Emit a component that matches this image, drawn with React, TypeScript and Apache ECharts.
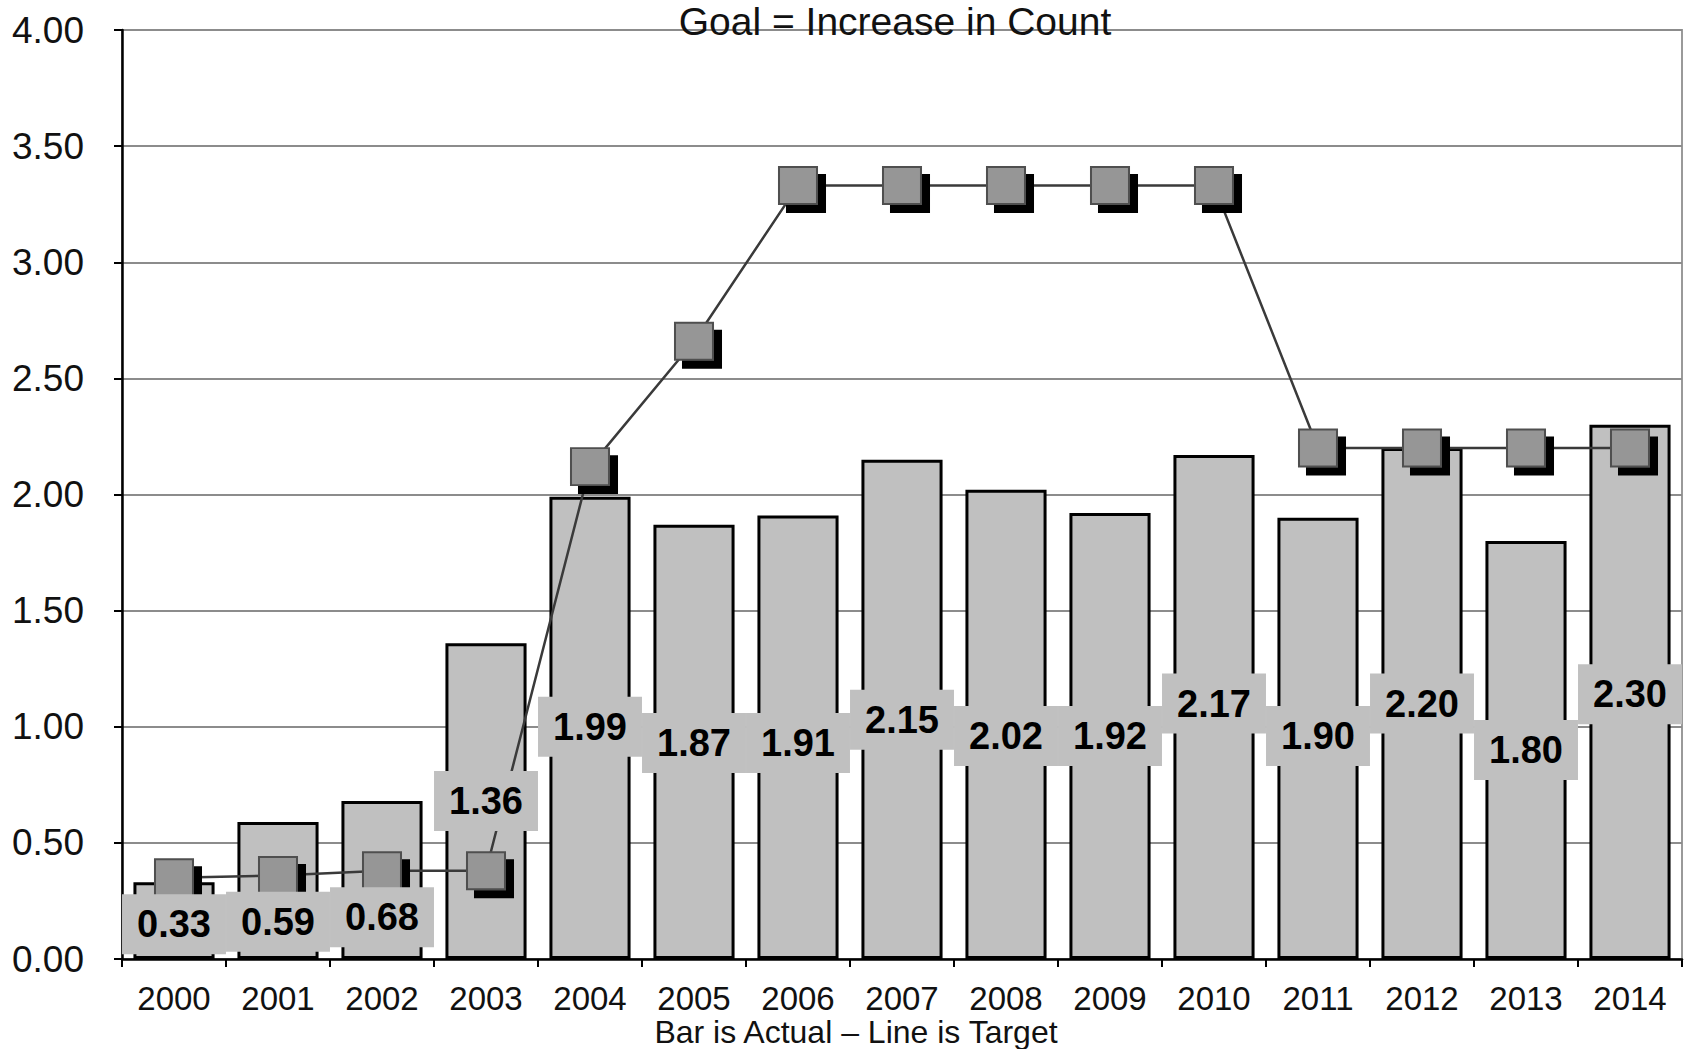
import React, { useEffect, useRef } from "react";
import * as echarts from "echarts";

const categories = ["2000", "2001", "2002", "2003", "2004", "2005", "2006", "2007", "2008", "2009", "2010", "2011", "2012", "2013", "2014"];
const actual = [0.33, 0.59, 0.68, 1.36, 1.99, 1.87, 1.91, 2.15, 2.02, 1.92, 2.17, 1.9, 2.2, 1.8, 2.3];
const target = [0.35, 0.36, 0.38, 0.38, 2.12, 2.66, 3.33, 3.33, 3.33, 3.33, 3.33, 2.2, 2.2, 2.2, 2.2];
// vertical level (in axis units) where each value label box is centred
const labelLevels = [0.15, 0.16, 0.18, 0.68, 1.0, 0.93, 0.93, 1.03, 0.96, 0.96, 1.1, 0.96, 1.1, 0.9, 1.14];
const titleText = "Goal = Increase in Count";
const xAxisTitle = "Bar is Actual \u2013 Line is Target";

const FONT = "'Liberation Sans', Arial, sans-serif";

export default function App() {
  const ref = useRef<HTMLDivElement>(null);
  useEffect(() => {
    if (!ref.current) return;
    const chart = echarts.init(ref.current, null, { renderer: "svg" });
    chart.setOption({
      animation: false,
      backgroundColor: "#ffffff",
      textStyle: { fontFamily: FONT },
      grid: {
        left: 122,
        right: 10,
        top: 30,
        bottom: 90,
        containLabel: false,
        outerBoundsMode: "none",
        show: true,
        borderColor: "#9a9a9a",
        borderWidth: 2,
        backgroundColor: "transparent",
      },
      graphic: [
        {
          type: "text",
          x: 895,
          y: 21,
          z: 10,
          style: {
            text: titleText,
            fill: "#111",
            font: `39px ${FONT}`,
            textAlign: "center",
            textVerticalAlign: "middle",
          },
        },
      ],
      xAxis: {
        type: "category",
        data: categories,
        axisLine: { lineStyle: { color: "#000", width: 2.5 } },
        axisTick: { show: true, length: 8, lineStyle: { color: "#000", width: 2 } },
        axisLabel: { fontSize: 33, lineHeight: 33, color: "#111", margin: 23, fontFamily: FONT },
        name: xAxisTitle,
        nameLocation: "middle",
        nameGap: 57,
        nameMoveOverlap: false,
        nameTextStyle: { fontSize: 32, lineHeight: 32, color: "#111", fontFamily: FONT, padding: [0, 92, 0, 0] },
      },
      yAxis: {
        type: "value",
        min: 0,
        max: 4,
        interval: 0.5,
        axisLine: { show: true, lineStyle: { color: "#000", width: 2.5 } },
        axisTick: { show: true, length: 8, lineStyle: { color: "#000", width: 2 } },
        axisLabel: {
          formatter: (v: number) => v.toFixed(2),
          fontSize: 37,
          color: "#111",
          margin: 38,
          padding: [0, 0, 6, 0],
          fontFamily: FONT,
        },
        splitLine: { lineStyle: { color: "#8c8c8c", width: 2 } },
      },
      series: [
        {
          name: "Actual",
          type: "bar",
          data: actual,
          barCategoryGap: "22%",
          itemStyle: { color: "#c0c0c0", borderColor: "#000", borderWidth: 3 },
          z: 2,
        },
        {
          name: "Target",
          type: "line",
          data: target,
          symbol: "rect",
          symbolSize: [38, 37],
          showAllSymbol: true,
          lineStyle: { color: "#3a3a3a", width: 2.5 },
          itemStyle: {
            color: "#969696",
            borderColor: "#505050",
            borderWidth: 2,
            shadowColor: "#000",
            shadowOffsetX: 8,
            shadowOffsetY: 8,
            shadowBlur: 0,
          },
          z: 3,
        },
        {
          name: "Labels",
          type: "scatter",
          data: labelLevels.map((y, i) => [i, y]),
          symbolSize: 1,
          itemStyle: { color: "rgba(0,0,0,0)", opacity: 1 },
          label: {
            show: true,
            position: "inside",
            formatter: (p: any) => actual[p.dataIndex].toFixed(2),
            fontSize: 38,
            fontWeight: "bold",
            color: "#000",
            backgroundColor: "#c0c0c0",
            padding: [11, 15],
            fontFamily: FONT,
          },
          z: 5,
        },
      ],
    });
    return () => chart.dispose();
  }, []);
  return (
    <div
      ref={ref}
      style={{ position: "absolute", left: 0, top: 0, width: 1692, height: 1049 }}
    />
  );
}
